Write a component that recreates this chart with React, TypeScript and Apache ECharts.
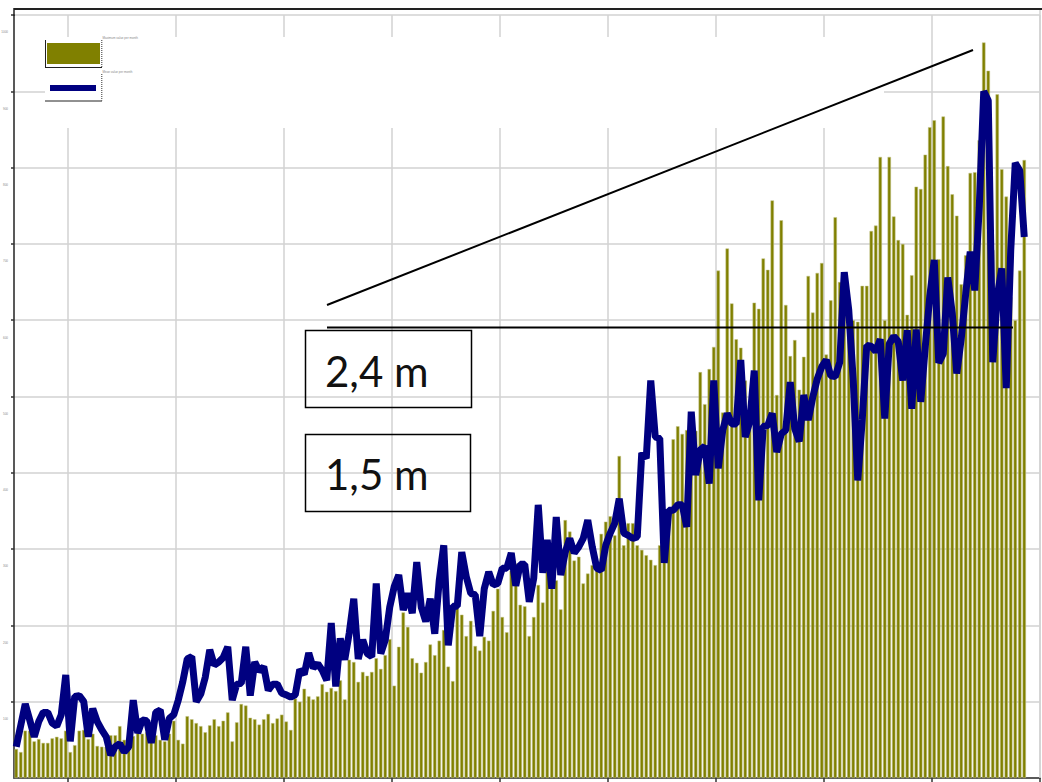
import React, { useEffect, useRef } from "react";
import * as echarts from "echarts";

// 228 monthly category slots (ticks every 24 slots, starting at slot 12)
const startYear = 1995;
const slotCount = 228;
const categories: string[] = [];
for (let i = 0; i < slotCount; i++) {
  const y = startYear + Math.floor(i / 12);
  const m = (i % 12) + 1;
  categories.push(`${y}-${m < 10 ? "0" + m : m}`);
}

const yTicks = [0, 100, 200, 300, 400, 500, 600, 700, 800, 900, 1000];

const barValues = [
  38, 34, 62, 62, 48, 51, 46, 46, 52, 54,
  52, 62, 34, 43, 62, 63, 51, 58, 42, 41,
  41, 56, 56, 68, 50, 50, 55, 59, 58, 60,
  48, 56, 50, 48, 58, 75, 50, 45, 81, 77,
  72, 68, 60, 69, 77, 68, 75, 86, 48, 73,
  97, 95, 79, 77, 70, 77, 84, 72, 78, 83,
  74, 63, 104, 100, 117, 107, 103, 107, 123, 113,
  118, 114, 128, 103, 155, 152, 126, 139, 134, 139,
  157, 143, 161, 182, 121, 172, 217, 198, 157, 151,
  138, 152, 175, 161, 180, 194, 146, 127, 224, 214,
  186, 206, 173, 167, 185, 180, 219, 248, 211, 191,
  272, 281, 227, 225, 186, 211, 253, 230, 279, 272,
  259, 221, 338, 323, 285, 290, 255, 268, 279, 283,
  320, 336, 343, 318, 422, 305, 334, 334, 305, 299,
  292, 286, 279, 305, 301, 330, 444, 461, 451, 456,
  436, 455, 532, 490, 536, 565, 665, 479, 694, 622,
  575, 564, 521, 489, 623, 615, 681, 666, 757, 502,
  731, 620, 553, 574, 509, 552, 658, 610, 662, 675,
  555, 626, 735, 650, 663, 626, 600, 598, 645, 645,
  717, 724, 814, 600, 814, 736, 705, 700, 607, 659,
  775, 772, 817, 853, 862, 680, 867, 802, 765, 737,
  647, 685, 793, 794, 836, 964, 927, 692, 896, 798,
  762, 630, 600, 665, 810,
];

const lineValues = [
  41, 69, 97, 76, 54, 74, 86, 86, 72, 68,
  83, 135, 48, 107, 108, 100, 54, 91, 74, 63,
  54, 30, 41, 45, 34, 41, 102, 59, 76, 75,
  46, 86, 89, 50, 78, 83, 102, 126, 156, 159,
  100, 110, 132, 168, 148, 152, 158, 172, 102, 123,
  124, 172, 108, 152, 140, 146, 115, 123, 123, 111,
  109, 106, 109, 142, 136, 164, 144, 150, 141, 128,
  203, 120, 183, 155, 190, 235, 156, 181, 163, 159,
  255, 163, 181, 224, 251, 266, 220, 242, 216, 283,
  224, 205, 235, 189, 259, 305, 174, 225, 225, 296,
  264, 242, 240, 186, 248, 270, 253, 255, 275, 275,
  295, 252, 280, 280, 231, 262, 358, 269, 312, 248,
  342, 266, 296, 314, 295, 303, 314, 338, 303, 275,
  272, 305, 321, 334, 366, 321, 318, 314, 316, 426,
  419, 521, 447, 445, 282, 351, 351, 358, 358, 329,
  480, 397, 430, 435, 386, 521, 406, 456, 478, 464,
  464, 548, 447, 467, 534, 364, 461, 462, 478, 427,
  451, 456, 519, 458, 441, 502, 469, 499, 523, 539,
  548, 527, 526, 545, 663, 613, 521, 390, 470, 567,
  566, 559, 575, 471, 569, 579, 572, 521, 587, 484,
  588, 493, 565, 631, 679, 544, 556, 656, 609, 530,
  576, 635, 690, 639, 748, 900, 888, 545, 631, 668,
  511, 692, 806, 796, 709,
];

const seriesNames = ["Maximum value per month", "Mean value per month"];
const annotationLabels = ["2,4 m", "1,5 m"];

const tickEvery = 24;
const tickOffset = 12;

export default function App() {
  const ref = useRef<HTMLDivElement>(null);

  useEffect(() => {
    if (!ref.current) return;
    const chart = echarts.init(ref.current, null, { renderer: "svg" });
    const isTick = (i: number) => i % tickEvery === tickOffset;

    chart.setOption({
      animation: false,
      backgroundColor: "#ffffff",
      grid: { left: 14, right: 2, top: 15, bottom: 4, containLabel: false, outerBoundsMode: "none" },
      xAxis: {
        type: "category",
        data: categories,
        boundaryGap: true,
        axisLine: { show: true, lineStyle: { color: "#5a5a5a", width: 2 } },
        axisTick: { show: true, interval: (i: number) => isTick(i), length: 4, lineStyle: { color: "#333", width: 1.5 } },
        axisLabel: { show: false },
        splitLine: { show: true, interval: (i: number) => isTick(i), lineStyle: { color: "#d2d2d2", width: 1.5 } },
      },
      yAxis: {
        type: "value",
        min: yTicks[0],
        max: yTicks[yTicks.length - 1],
        interval: yTicks[1] - yTicks[0],
        axisLine: { show: true, lineStyle: { color: "#222", width: 1.5 } },
        axisTick: { show: true, length: 3, lineStyle: { color: "#333", width: 1.5 } },
        axisLabel: {
          show: true,
          showMinLabel: false,
          fontSize: 3,
          color: "#888",
          margin: 6,
          lineHeight: 34,
          formatter: (v: number) => "\n" + v,
        },
        splitLine: { show: true, lineStyle: { color: "#d2d2d2", width: 1.5 } },
      },
      series: [
        {
          name: seriesNames[0],
          type: "bar",
          data: barValues,
          barWidth: 3.4,
          itemStyle: { color: "#808000", borderColor: "#c4c48a", borderWidth: 0.5 },
          z: 2,
        },
        {
          name: seriesNames[1],
          type: "line",
          data: lineValues,
          symbol: "none",
          showSymbol: false,
          lineStyle: { color: "#000080", width: 7, join: "bevel" },
          z: 3,
        },
      ],
      graphic: [
        // legend background (hides grid behind legend)
        { type: "rect", z: 1, shape: { x: 45, y: 37, width: 839, height: 91 }, style: { fill: "#ffffff" } },
        // top frame + y-axis continuation + right edge
        { type: "line", z: 5, shape: { x1: 14, y1: 9, x2: 1042, y2: 9 }, style: { stroke: "#222", lineWidth: 2 } },
        { type: "line", z: 5, shape: { x1: 14, y1: 8, x2: 14, y2: 16 }, style: { stroke: "#222", lineWidth: 1.5 } },
        { type: "line", z: 1, shape: { x1: 1040, y1: 10, x2: 1040, y2: 778 }, style: { stroke: "#d2d2d2", lineWidth: 1.5 } },
        // legend item 1
        { type: "rect", z: 5, shape: { x: 47, y: 43, width: 53, height: 21 }, style: { fill: "#808000" } },
        { type: "line", z: 5, shape: { x1: 45.5, y1: 40, x2: 45.5, y2: 67.5 }, style: { stroke: "#222", lineWidth: 1 } },
        { type: "line", z: 5, shape: { x1: 45, y1: 67.5, x2: 102, y2: 67.5 }, style: { stroke: "#222", lineWidth: 1 } },
        { type: "line", z: 5, shape: { x1: 101.8, y1: 40, x2: 101.8, y2: 67 }, style: { stroke: "#333", lineWidth: 1, lineDash: [1, 1] } },
        { type: "text", z: 5, x: 102.5, y: 38, style: { text: seriesNames[0], fontSize: 3, fill: "#888", fontFamily: "Liberation Sans", verticalAlign: "middle" } },
        // legend item 2
        { type: "rect", z: 5, shape: { x: 50, y: 85, width: 46, height: 6 }, style: { fill: "#000080" } },
        { type: "line", z: 5, shape: { x1: 45, y1: 101, x2: 102, y2: 101 }, style: { stroke: "#222", lineWidth: 1 } },
        { type: "line", z: 5, shape: { x1: 101.8, y1: 74, x2: 101.8, y2: 100.5 }, style: { stroke: "#333", lineWidth: 1, lineDash: [1, 1] } },
        { type: "text", z: 5, x: 102.5, y: 72, style: { text: seriesNames[1], fontSize: 3, fill: "#888", fontFamily: "Liberation Sans", verticalAlign: "middle" } },
        // annotation lines
        { type: "line", z: 10, shape: { x1: 327, y1: 305, x2: 973, y2: 50 }, style: { stroke: "#000", lineWidth: 2 } },
        { type: "line", z: 10, shape: { x1: 327, y1: 327.5, x2: 1013, y2: 327.5 }, style: { stroke: "#000", lineWidth: 2 } },
        // annotation boxes
        { type: "rect", z: 10, shape: { x: 305.5, y: 330.5, width: 166, height: 77 }, style: { fill: "none", stroke: "#000", lineWidth: 1.5 } },
        { type: "rect", z: 10, shape: { x: 305.5, y: 434.5, width: 165, height: 77 }, style: { fill: "none", stroke: "#000", lineWidth: 1.5 } },
        { type: "text", z: 10, x: 325, y: 371, style: { text: annotationLabels[0], fontSize: 42, fill: "#111", fontFamily: "Lato", verticalAlign: "middle", align: "left" } },
        { type: "text", z: 10, x: 325, y: 474, style: { text: annotationLabels[1], fontSize: 42, fill: "#111", fontFamily: "Lato", verticalAlign: "middle", align: "left" } },
      ],
    });

    return () => chart.dispose();
  }, []);

  return (
    <div
      ref={ref}
      style={{ position: "fixed", left: 0, top: 0, width: 1042, height: 782, background: "#fff" }}
    />
  );
}
